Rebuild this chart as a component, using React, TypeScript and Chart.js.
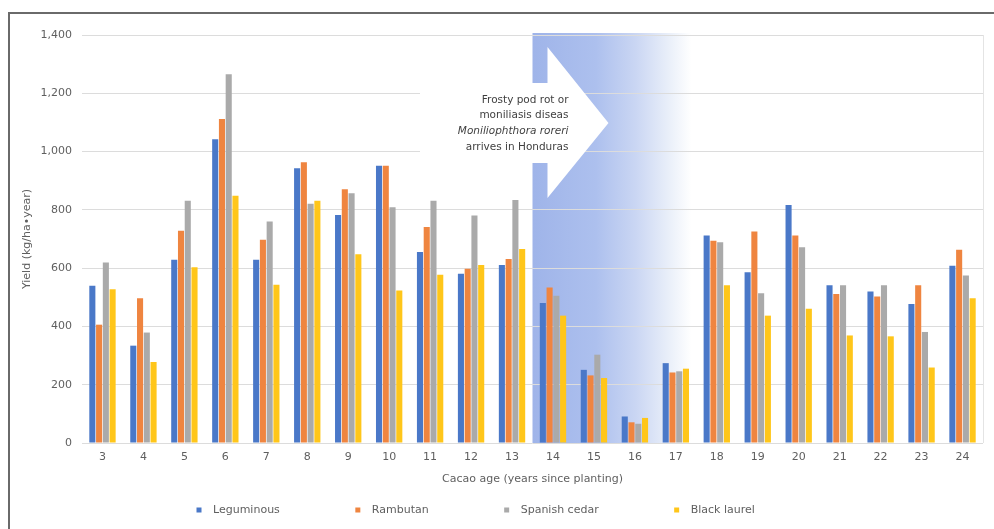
import React, { useEffect, useRef } from "react";
import { Chart, registerables } from "chart.js";

Chart.register(...registerables);

const categories = ["3", "4", "5", "6", "7", "8", "9", "10", "11", "12", "13", "14", "15", "16", "17", "18", "19", "20", "21", "22", "23", "24"];
const leguminous = [540, 334, 629, 1042, 629, 943, 782, 951, 655, 581, 611, 480, 251, 91, 274, 712, 586, 817, 541, 520, 477, 608];
const rambutan = [406, 497, 728, 1112, 697, 963, 871, 951, 741, 598, 631, 534, 232, 71, 242, 694, 726, 712, 511, 503, 541, 663];
const spanishCedar = [619, 379, 831, 1265, 760, 821, 857, 809, 831, 781, 834, 505, 303, 66, 246, 689, 514, 672, 541, 541, 381, 575];
const blackLaurel = [528, 278, 603, 848, 543, 831, 648, 523, 577, 611, 666, 437, 223, 86, 255, 541, 437, 461, 369, 366, 259, 497];
const seriesNames = ["Leguminous", "Rambutan", "Spanish cedar", "Black laurel"];
const seriesColors = ["#4a78c8", "#ef8540", "#aaaaaa", "#ffc61a"];
const yMin = 0;
const yMax = 1400;
const yStep = 200;
const shadeFrom = "14";
const shadeTo = "17";
const annotationLines = ["Frosty pod rot or", "moniliasis diseas", "Moniliophthora roreri", "arrives in Honduras"];
const italicLine = 2;

const FONT = "'DejaVu Sans', 'Liberation Sans', Arial, sans-serif";
const TEXT = "#5f5f5f";

const overlayPlugin = {
  id: "overlay",
  beforeDraw(chart: any) {
    const { ctx, chartArea, scales } = chart;
    const x = scales.x;
    const i0 = categories.indexOf(shadeFrom);
    const i1 = categories.indexOf(shadeTo);
    const xL = (x.getPixelForValue(i0 - 1) + x.getPixelForValue(i0)) / 2;
    const xR = (x.getPixelForValue(i1) + x.getPixelForValue(i1 + 1)) / 2 - 5;
    const g = ctx.createLinearGradient(xL, 0, xR, 0);
    g.addColorStop(0, "#9fb4e9");
    g.addColorStop(0.4, "#adc0ee");
    g.addColorStop(0.65, "#cad6f3");
    g.addColorStop(0.85, "#e8eef9");
    g.addColorStop(1, "#ffffff");
    ctx.save();
    ctx.fillStyle = g;
    ctx.fillRect(xL, chartArea.top - 2, xR - xL, chartArea.bottom - chartArea.top + 2);
    ctx.restore();
  },
  beforeDatasetsDraw(chart: any) {
    const { ctx, chartArea, scales } = chart;
    const x = scales.x;
    const i0 = categories.indexOf(shadeFrom);
    const xL = (x.getPixelForValue(i0 - 1) + x.getPixelForValue(i0)) / 2;
    const t = chartArea.top;
    const shaftLeft = 420;
    const headX = xL + 15;
    const tipX = xL + 76;
    ctx.save();
    ctx.fillStyle = "#ffffff";
    ctx.beginPath();
    ctx.moveTo(shaftLeft, t + 48);
    ctx.lineTo(headX, t + 48);
    ctx.lineTo(headX, t + 12);
    ctx.lineTo(tipX, t + 88);
    ctx.lineTo(headX, t + 163);
    ctx.lineTo(headX, t + 128);
    ctx.lineTo(shaftLeft, t + 128);
    ctx.closePath();
    ctx.fill();
    ctx.restore();
  },
  afterDraw(chart: any) {
    const { ctx, chartArea, scales } = chart;
    const x = scales.x;
    const i0 = categories.indexOf(shadeFrom);
    const xL = (x.getPixelForValue(i0 - 1) + x.getPixelForValue(i0)) / 2;
    ctx.save();
    // plot right border
    ctx.strokeStyle = "#e4e4e4";
    ctx.lineWidth = 1;
    ctx.beginPath();
    ctx.moveTo(chartArea.right + 0.5, chartArea.top);
    ctx.lineTo(chartArea.right + 0.5, chartArea.bottom);
    ctx.stroke();
    // annotation text
    ctx.fillStyle = "#3f3f3f";
    ctx.textAlign = "right";
    ctx.textBaseline = "middle";
    annotationLines.forEach((line, i) => {
      ctx.font = (i === italicLine ? "italic " : "") + "10.5px " + FONT;
      ctx.fillText(line, xL + 36, chartArea.top + 65 + i * 15.6);
    });
    // legend
    ctx.font = "11px " + FONT;
    ctx.textAlign = "left";
    let cx = 199;
    const ly = 510;
    chart.data.datasets.forEach((ds: any) => {
      ctx.fillStyle = ds.backgroundColor;
      ctx.fillRect(cx - 2.5, ly - 2.5, 5, 5);
      ctx.fillStyle = TEXT;
      const tx = cx + 14;
      ctx.fillText(ds.label, tx, ly);
      cx = tx + ctx.measureText(ds.label).width + 78;
    });
    ctx.restore();
  },
};

export default function App() {
  const ref = useRef<HTMLCanvasElement>(null);
  useEffect(() => {
    document.body.style.margin = "0";
    document.body.style.overflow = "hidden";
    const values = [leguminous, rambutan, spanishCedar, blackLaurel];
    const chart = new Chart(ref.current as HTMLCanvasElement, {
      type: "bar",
      data: {
        labels: categories,
        datasets: seriesNames.map((name, i) => ({
          label: name,
          data: values[i],
          backgroundColor: seriesColors[i],
          categoryPercentage: 0.66,
          barPercentage: 0.9,
        })),
      },
      options: {
        responsive: false,
        animation: false,
        devicePixelRatio: 1,
        layout: { padding: { top: 35, right: 11, left: 0, bottom: 0 } },
        plugins: { legend: { display: false }, tooltip: { enabled: false } },
        scales: {
          x: {
            grid: { display: false, drawTicks: false },
            border: { display: false },
            ticks: { padding: 8, color: TEXT, font: { family: FONT, size: 11 } },
            title: {
              display: true,
              text: "Cacao age (years since planting)",
              color: TEXT,
              font: { family: FONT, size: 11 },
              padding: { top: 0, bottom: 43 },
            },
            afterFit(s: any) {
              s.height = 86;
            },
          },
          y: {
            min: yMin,
            max: yMax,
            ticks: { stepSize: yStep, padding: 10, color: TEXT, font: { family: FONT, size: 11 } },
            grid: { color: "#dcdcdc", drawTicks: false },
            border: { display: false },
            title: {
              display: true,
              text: "Yield (kg/ha•year)",
              color: TEXT,
              font: { family: FONT, size: 11 },
              padding: { top: 21, bottom: 0 },
            },
            afterFit(s: any) {
              s.width = 82;
            },
          },
        },
      },
      plugins: [overlayPlugin],
    });
    return () => chart.destroy();
  }, []);
  return (
    <div style={{ position: "relative", width: 994, height: 529, overflow: "hidden", background: "#fff" }}>
      <canvas ref={ref} width={994} height={529} style={{ position: "absolute", left: 0, top: 0 }} />
      <div
        style={{
          position: "absolute",
          left: 8,
          top: 12,
          width: 1100,
          height: 700,
          borderTop: "2px solid #6a6a6a",
          borderLeft: "2px solid #6a6a6a",
          pointerEvents: "none",
        }}
      />
    </div>
  );
}
